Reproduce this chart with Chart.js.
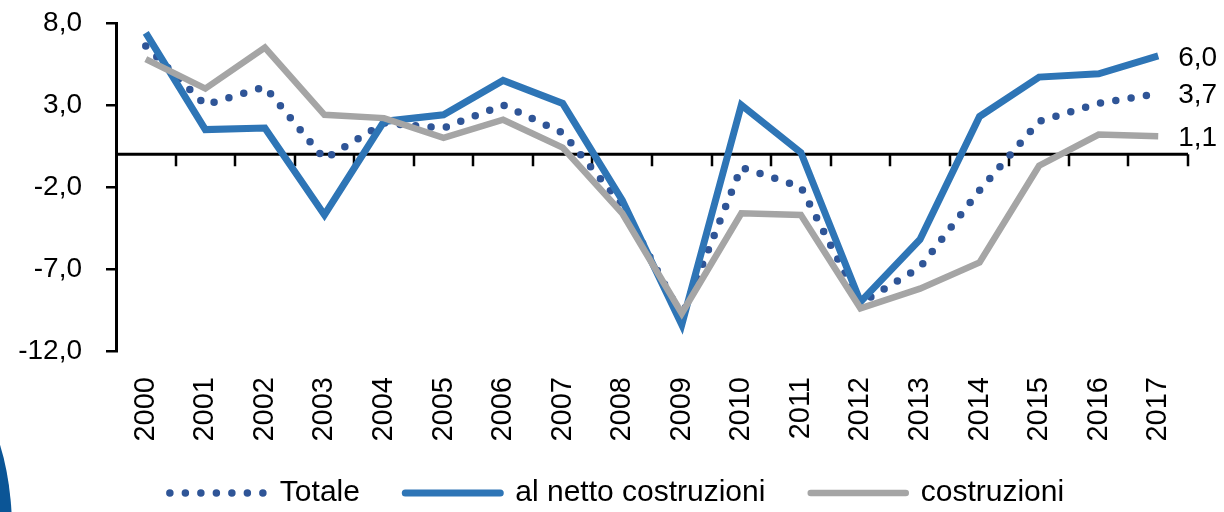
<!DOCTYPE html>
<html>
<head>
<meta charset="utf-8">
<script src="https://cdn.jsdelivr.net/npm/chart.js@4/dist/chart.umd.min.js"></script>
<style>
  html, body { margin: 0; padding: 0; background: #fff; }
  #wrap { position: relative; width: 1224px; height: 512px; overflow: hidden; }
  #arc { position: absolute; left: -132px; top: 376px; width: 144px; height: 308px; border-radius: 50%; background: #0b5596; }
  #wrap canvas { position: relative; }
</style>
</head>
<body>
<div id="wrap">
  <div id="arc"></div>
  <canvas id="chart"></canvas>
</div>
<script>
const years = ["2000", "2001", "2002", "2003", "2004", "2005", "2006", "2007", "2008",
               "2009", "2010", "2011", "2012", "2013", "2014", "2015", "2016", "2017"];

const totale      = [6.6, 3.0, 4.1, -0.3, 1.9, 1.6, 3.0, 1.3, -3.1, -9.9, -0.8, -2.0, -9.1, -6.9, -2.2, 2.0, 3.1, 3.7];
const alNetto     = [7.4, 1.5, 1.6, -3.7, 2.0, 2.4, 4.5, 3.1, -2.8, -10.4, 3.0, 0.1, -9.0, -5.2, 2.3, 4.7, 4.9, 6.0];
const costruzioni = [5.8, 4.0, 6.5, 2.4, 2.2, 1.0, 2.1, 0.4, -3.6, -9.7, -3.6, -3.7, -9.4, -8.2, -6.6, -0.7, 1.2, 1.1];

const seriesNames = ["Totale", "al netto costruzioni", "costruzioni"];

const yMin = -12;
const yMax = 8;
const yStep = 5;

const fmt = (v) => Number(v).toFixed(1).replace(".", ",");

const font = '"Liberation Sans", Arial, sans-serif';

// horizontal line at zero with the small marks between the years
const zeroAxis = {
    id: "zeroAxis",
    afterLayout(chart) {
        // legend sits a little right of the canvas centre
        chart.legend.left += 14;
        chart.legend.right += 14;
    },
    beforeDatasetsDraw(chart) {
        const { ctx, scales: { x, y } } = chart;
        const y0 = y.getPixelForValue(0);
        const step = x.width / years.length;
        ctx.save();
        ctx.strokeStyle = "#000";
        ctx.lineWidth = 3;
        ctx.beginPath();
        ctx.moveTo(x.left, y0);
        ctx.lineTo(x.right, y0);
        ctx.stroke();
        ctx.lineWidth = 2.5;
        ctx.beginPath();
        for (let i = 1; i <= years.length; i++) {
            const px = Math.round(x.left + i * step);
            ctx.moveTo(px, y0);
            ctx.lineTo(px, y0 + 12);
        }
        ctx.stroke();
        ctx.restore();
    }
};

// last value written at the right end of each line
const endLabels = {
    id: "endLabels",
    afterDatasetsDraw(chart) {
        const ctx = chart.ctx;
        ctx.save();
        ctx.font = "28px " + font;
        ctx.fillStyle = "#000";
        ctx.textAlign = "left";
        ctx.textBaseline = "middle";
        chart.data.datasets.forEach((ds, i) => {
            const meta = chart.getDatasetMeta(i);
            const last = meta.data[meta.data.length - 1];
            ctx.fillText(fmt(ds.data[ds.data.length - 1]), last.x + 20, last.y + 2);
        });
        ctx.restore();
    }
};

new Chart(document.getElementById("chart"), {
    type: "line",
    data: {
        labels: years,
        datasets: [
            {
                label: seriesNames[0],
                data: totale,
                borderColor: "#2f5597",
                backgroundColor: "#2f5597",
                borderWidth: 7.5,
                borderDash: [0, 15.5],
                borderCapStyle: "round",
                pointRadius: 0,
                order: 3
            },
            {
                label: seriesNames[1],
                data: alNetto,
                borderColor: "#2e75b6",
                backgroundColor: "#2e75b6",
                borderWidth: 7,
                pointRadius: 0,
                order: 2
            },
            {
                label: seriesNames[2],
                data: costruzioni,
                borderColor: "#a5a5a5",
                backgroundColor: "#a5a5a5",
                borderWidth: 6.5,
                pointRadius: 0,
                order: 1
            }
        ]
    },
    options: {
        responsive: true,
        maintainAspectRatio: false,
        animation: false,
        layout: {
            padding: { left: 18, right: 36, top: 23, bottom: -6 }
        },
        plugins: {
            tooltip: { enabled: false },
            legend: {
                position: "bottom",
                labels: {
                    color: "#000",
                    font: { family: font, size: 30 },
                    usePointStyle: true,
                    pointStyle: "line",
                    pointStyleWidth: 95,
                    padding: 12,
                    sort: (a, b) => a.datasetIndex - b.datasetIndex,
                    generateLabels(chart) {
                        const items = Chart.defaults.plugins.legend.labels.generateLabels(chart);
                        return items.map((item) => {
                            const ds = chart.data.datasets[item.datasetIndex];
                            item.lineCap = "round";
                            item.lineWidth = ds.borderWidth;
                            item.lineDash = ds.borderDash || [];
                            item.strokeStyle = ds.borderColor;
                            if (item.datasetIndex < seriesNames.length - 1) {
                                item.text = item.text + "    ";
                            }
                            return item;
                        });
                    }
                }
            }
        },
        scales: {
            x: {
                offset: true,
                border: { display: false },
                grid: { display: false, drawTicks: false },
                ticks: {
                    color: "#000",
                    font: { family: font, size: 29 },
                    autoSkip: false,
                    minRotation: 90,
                    maxRotation: 90,
                    padding: 26
                },
                afterFit(scale) {
                    scale.height = 115;
                }
            },
            y: {
                min: yMin,
                max: yMax,
                border: { color: "#000", width: 3 },
                grid: {
                    drawOnChartArea: false,
                    drawTicks: true,
                    tickLength: 10,
                    color: "#000",
                    lineWidth: 2.5
                },
                ticks: {
                    stepSize: yStep,
                    color: "#000",
                    font: { family: font, size: 28 },
                    padding: 24,
                    callback: (v) => fmt(v)
                },
                afterFit(scale) {
                    scale.width = 98;
                    scale.paddingTop = 0;
                    scale.paddingBottom = 0;
                }
            }
        }
    },
    plugins: [zeroAxis, endLabels]
});
</script>
</body>
</html>
